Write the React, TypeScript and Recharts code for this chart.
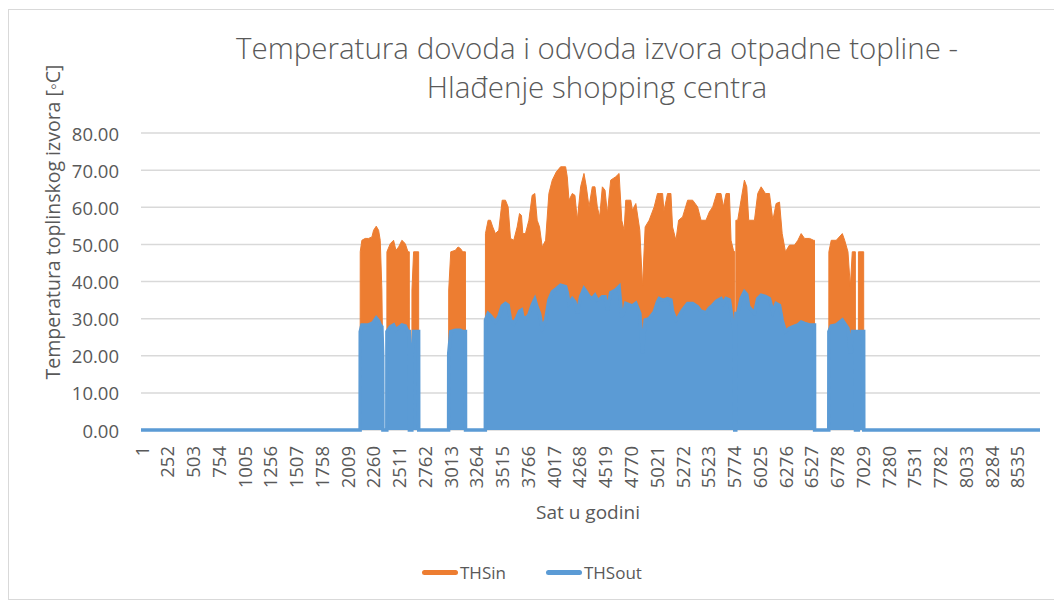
import { AreaChart, Area, XAxis, YAxis, CartesianGrid } from "recharts";

// sat u godini (x) i očitane temperature [°C]
const sati = [
  1,
  2136, 2137, 2153, 2185, 2218, 2251, 2267, 2293, 2316, 2332, 2348, 2356, 2358,
  2396, 2397, 2430, 2462, 2485, 2511, 2543, 2576, 2602, 2615, 2616,
  2640, 2641, 2657, 2700, 2706, 2707,
  2998, 2999, 3019, 3064, 3090, 3113, 3136, 3162, 3163,
  3356, 3357, 3383, 3406, 3428, 3454, 3487, 3520, 3552, 3578, 3601, 3633, 3666,
  3689, 3708, 3721, 3747, 3780, 3812, 3838, 3861, 3884, 3910, 3943, 3975, 4008,
  4047, 4089, 4138, 4154, 4171, 4203, 4229, 4252, 4284, 4317, 4340, 4366, 4398,
  4424, 4447, 4470, 4496, 4522, 4545, 4577, 4626, 4659, 4685, 4708, 4724, 4773,
  4789, 4822, 4861, 4887, 4913, 4952, 5001, 5033, 5050, 5083, 5096, 5131, 5164,
  5180, 5213, 5239, 5278, 5327, 5376, 5424, 5457, 5506, 5538, 5571, 5610, 5652,
  5675, 5701, 5734, 5750, 5773, 5785, 5786, 5796, 5797, 5815, 5847, 5880, 5903,
  5922, 5978, 6010, 6043, 6085, 6124, 6157, 6189, 6222, 6248, 6280, 6319, 6368,
  6401, 6433, 6466, 6515, 6554, 6563, 6564,
  6702, 6703, 6726, 6775, 6834, 6857, 6889, 6912, 6931, 6961, 6962,
  6990, 6991, 7042, 7043,
  8760,
];

const thsIn = [
  0,
  0, 48.0, 51.1, 51.6, 51.6, 52.0, 53.8, 54.9, 53.8, 51.1, 37.7, 20.6, 0,
  0, 48.0, 50.2, 51.1, 48.4, 49.3, 51.1, 50.2, 48.0, 48.0, 0,
  0, 37.7, 48.0, 48.0, 48.0, 0,
  0, 37.7, 48.0, 48.4, 49.3, 48.9, 48.0, 48.0, 0,
  0, 52.9, 56.5, 56.5, 54.7, 52.9, 53.8, 61.9, 61.9, 60.1, 51.6, 51.1, 54.7,
  58.3, 57.8, 52.9, 52.9, 56.5, 63.2, 63.7, 56.5, 54.7, 49.3, 51.1, 63.7, 67.3,
  69.5, 70.9, 70.9, 68.2, 61.9, 63.7, 63.2, 56.5, 65.5, 69.1, 65.5, 60.1, 65.5,
  65.5, 60.1, 57.4, 65.5, 64.6, 58.3, 67.3, 68.2, 69.1, 56.5, 53.8, 61.9, 61.9,
  59.2, 61.0, 53.8, 38.6, 54.7, 56.5, 60.1, 63.7, 63.7, 63.7, 59.0, 63.7, 63.7,
  54.7, 51.1, 56.5, 57.4, 61.9, 61.9, 60.1, 56.5, 56.5, 58.7, 60.1, 63.7, 63.7,
  60.1, 63.7, 63.7, 51.1, 48.4, 48.0, 0, 0, 56.5, 56.5, 61.9, 67.3, 65.5,
  56.5, 56.5, 63.7, 65.5, 63.7, 63.7, 56.5, 61.0, 61.4, 52.9, 48.0, 49.8, 49.8,
  51.1, 52.9, 51.6, 51.6, 51.1, 51.1, 0,
  0, 48.0, 51.1, 51.1, 52.9, 51.1, 48.0, 38.6, 48.0, 48.0, 0,
  0, 48.0, 48.0, 0,
  0,
];

const thsOut = [
  0,
  0, 26.5, 28.3, 28.3, 28.3, 28.7, 29.1, 30.2, 29.4, 28.3, 27.8, 19.7, 0,
  0, 26.5, 27.8, 28.3, 27.0, 27.6, 28.3, 28.0, 26.5, 26.5, 0,
  0, 19.7, 26.5, 26.5, 26.5, 0,
  0, 20.6, 26.5, 26.9, 26.9, 26.9, 26.5, 26.5, 0,
  0, 29.6, 31.4, 30.8, 30.0, 29.1, 30.5, 33.4, 34.1, 33.6, 29.6, 28.7, 30.5,
  32.0, 32.3, 30.5, 30.0, 31.0, 33.6, 35.2, 33.0, 31.4, 27.4, 29.6, 35.0, 37.2,
  38.0, 39.0, 38.6, 37.0, 34.1, 35.4, 34.5, 31.4, 35.9, 38.1, 37.2, 36.0, 35.4,
  36.3, 35.0, 35.2, 35.9, 35.9, 32.3, 37.0, 37.7, 38.6, 30.5, 32.0, 34.1, 33.6,
  33.4, 34.1, 31.4, 20.6, 29.6, 30.0, 31.8, 34.5, 35.4, 35.0, 35.0, 35.4, 35.0,
  32.0, 29.6, 30.5, 32.3, 34.1, 34.1, 33.2, 32.0, 31.6, 32.8, 33.6, 34.8, 35.4,
  34.1, 35.4, 35.0, 32.0, 27.8, 27.8, 0, 0, 31.4, 31.4, 35.4, 37.2, 36.5,
  33.2, 31.4, 35.4, 36.3, 36.0, 35.4, 31.8, 34.1, 33.6, 29.6, 26.5, 27.4, 28.0,
  28.3, 29.1, 28.7, 28.3, 28.3, 28.3, 0,
  0, 26.5, 28.0, 28.3, 29.6, 28.7, 27.4, 20.6, 26.5, 26.5, 0,
  0, 26.5, 26.5, 0,
  0,
];

const oznakeSati = [
  1, 252, 503, 754, 1005, 1256, 1507, 1758, 2009, 2260, 2511, 2762, 3013, 3264,
  3515, 3766, 4017, 4268, 4519, 4770, 5021, 5272, 5523, 5774, 6025, 6276, 6527,
  6778, 7029, 7280, 7531, 7782, 8033, 8284, 8535,
];

const oznakeTemp = [0, 10, 20, 30, 40, 50, 60, 70, 80];

const podaci = sati.map((sat, i) => ({
  sat,
  THSin: thsIn[i],
  THSout: thsOut[i],
}));

const FONT = "'Open Sans', 'Noto Sans', sans-serif";
const SIVA = "#595959";
const NARANCASTA = "#ED7D31";
const PLAVA = "#5B9BD5";

function OznakaSata({ x, y, payload }: any) {
  return (
    <text
      transform={`translate(${x},${y + 14}) rotate(-90)`}
      textAnchor="end"
      dominantBaseline="central"
      fill={SIVA}
      fontSize={18.5}
      fontFamily={FONT}
    >
      {payload.value}
    </text>
  );
}

function OznakaTemp({ x, y, payload }: any) {
  return (
    <text
      x={x - 20}
      y={y}
      textAnchor="end"
      dominantBaseline="central"
      fill={SIVA}
      fontSize={18.5}
      fontFamily={FONT}
    >
      {payload.value.toFixed(2)}
    </text>
  );
}

export default function App() {
  return (
    <div
      style={{
        position: "fixed",
        left: 0,
        top: 0,
        width: 1054,
        height: 601,
        background: "#fff",
        overflow: "hidden",
        fontFamily: FONT,
      }}
    >
      <div
        style={{
          position: "absolute",
          left: 8,
          top: 9,
          width: 1100,
          height: 589,
          border: "1px solid #d9d9d9",
        }}
      />
      <AreaChart
        width={1054}
        height={601}
        data={podaci}
        margin={{ top: 133, right: 14, left: 0, bottom: 91 }}
      >
        <CartesianGrid vertical={false} stroke="#d9d9d9" strokeWidth={1.5} />
        <XAxis
          dataKey="sat"
          type="number"
          domain={[1, 8760]}
          ticks={oznakeSati}
          interval={0}
          tick={<OznakaSata />}
          tickLine={false}
          axisLine={false}
          tickSize={0}
          height={80}
        />
        <YAxis
          type="number"
          domain={[0, 80]}
          ticks={oznakeTemp}
          tick={<OznakaTemp />}
          tickLine={false}
          axisLine={false}
          tickSize={0}
          width={141}
        />
        <Area
          type="linear"
          dataKey="THSin"
          stroke={NARANCASTA}
          strokeWidth={1}
          fill={NARANCASTA}
          fillOpacity={1}
          dot={false}
          activeDot={false}
          isAnimationActive={false}
        />
        <Area
          type="linear"
          dataKey="THSout"
          stroke={PLAVA}
          strokeWidth={3.5}
          fill={PLAVA}
          fillOpacity={1}
          dot={false}
          activeDot={false}
          isAnimationActive={false}
        />
      </AreaChart>

      <div
        style={{
          position: "absolute",
          left: 197,
          width: 800,
          top: 28,
          textAlign: "center",
          fontSize: 29.5,
          lineHeight: "39px",
          fontWeight: 300,
          color: SIVA,
        }}
      >
        Temperatura dovoda i odvoda izvora otpadne topline -
        <br />
        Hlađenje shopping centra
      </div>

      <div
        style={{
          position: "absolute",
          left: 53 - 200,
          top: 222 - 14,
          width: 400,
          height: 28,
          lineHeight: "28px",
          textAlign: "center",
          fontSize: 19.5,
          color: SIVA,
          transform: "rotate(-90deg)",
          whiteSpace: "nowrap",
        }}
      >
        Temperatura toplinskog izvora [◦C]
      </div>

      <div
        style={{
          position: "absolute",
          left: 588 - 150,
          top: 512 - 14,
          width: 300,
          lineHeight: "28px",
          textAlign: "center",
          fontSize: 19,
          color: SIVA,
        }}
      >
        Sat u godini
      </div>

      <div
        style={{
          position: "absolute",
          left: 422,
          top: 572 - 12,
          height: 24,
          display: "flex",
          alignItems: "center",
          fontSize: 17,
          color: SIVA,
        }}
      >
        <span
          style={{
            width: 36,
            height: 5,
            borderRadius: 3,
            background: NARANCASTA,
            display: "inline-block",
          }}
        />
        <span style={{ marginLeft: 2, marginRight: 40 }}>THSin</span>
        <span
          style={{
            width: 36,
            height: 5,
            borderRadius: 3,
            background: PLAVA,
            display: "inline-block",
          }}
        />
        <span style={{ marginLeft: 2 }}>THSout</span>
      </div>
    </div>
  );
}
